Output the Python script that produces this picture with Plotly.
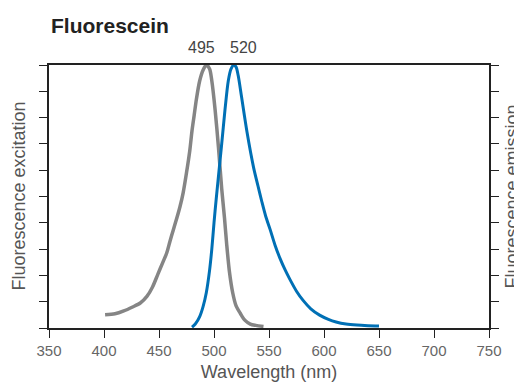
import plotly.graph_objects as go

# Excitation spectrum (gray)
ex_nm = [401, 410, 418, 426, 433, 439, 444, 449, 453, 457, 460, 463, 466, 469, 472,
         475, 478, 480, 482, 484, 487, 490, 493, 496, 498, 501, 504, 507, 509.5,
         511.5, 514, 517, 520, 524, 528, 533, 538, 545]
ex_val = [5.0, 5.4, 6.5, 8, 9.5, 12, 15.5, 20.5, 24.5, 28.5, 33, 37.3, 41.5, 46, 51.5,
          59, 67.5, 75, 81, 87, 94, 98, 100, 98.5, 94, 83, 69, 53, 42,
          32, 21.5, 13.4, 8.5, 5.5, 3, 1.5, 1.0, 0.6]

# Emission spectrum (blue)
em_nm = [480, 483, 487, 490, 493, 496, 498, 500, 502, 504, 507, 510, 513, 515.5, 518,
         520, 522, 525, 530, 536, 540, 543.5, 547, 551, 555.5, 560, 565, 569, 575,
         581, 588, 596, 604, 611, 620, 630, 640, 650]
em_val = [0.3, 1.5, 4.3, 8, 13.4, 22, 30, 40, 49, 57.5, 70, 83, 94, 98.5, 100,
          99.3, 96, 88, 74.5, 61, 54, 48, 42.5, 37.5, 31.5, 26.5, 21.8, 18.5, 14,
          10.5, 7.3, 4.9, 3.3, 2.3, 1.5, 1.1, 0.9, 0.8]

peak_labels = ["495", "520"]
peak_label_x = [489, 526.5]

x_ticks = [350, 400, 450, 500, 550, 600, 650, 700, 750]
y_ticks = [0, 10, 20, 30, 40, 50, 60, 70, 80, 90, 100]

FONT = "Liberation Sans, Arial, sans-serif"

fig = go.Figure()
fig.add_trace(go.Scatter(x=ex_nm, y=ex_val, mode="lines", name="Excitation",
                         line=dict(color="#858585", width=3.5, shape="spline", smoothing=0.8),
                         yaxis="y"))
fig.add_trace(go.Scatter(x=em_nm, y=em_val, mode="lines", name="Emission",
                         line=dict(color="#0070B5", width=3, shape="spline", smoothing=0.8),
                         yaxis="y2"))

axis_common = dict(showgrid=False, zeroline=False, linecolor="#222", linewidth=1.5,
                   ticks="outside", ticklen=8, tickcolor="#222", tickwidth=1,
                   automargin=False)

# page body has an 8px default margin, so the figure is sized/offset accordingly
fig.update_layout(
    width=514, height=375,
    margin=dict(l=41, r=33, t=57, b=55),
    paper_bgcolor="white", plot_bgcolor="white",
    showlegend=False,
    font=dict(family=FONT, color="#555"),
    xaxis=dict(range=[350, 750], tickvals=x_ticks, mirror=True,
               tickfont=dict(size=15, color="#666"),
               title=dict(text="Wavelength (nm)", font=dict(size=18, color="#555"), standoff=8),
               **axis_common),
    yaxis=dict(range=[0, 100], tickvals=y_ticks, showticklabels=False,
               **axis_common),
    yaxis2=dict(range=[0, 100], tickvals=y_ticks, showticklabels=False, overlaying="y",
                side="right", **axis_common),
)

fig.add_annotation(text="Fluorescence excitation", xref="paper", yref="paper",
                   x=(18 - 49) / 440, y=0.5, textangle=-90, showarrow=False,
                   xanchor="center", yanchor="middle",
                   font=dict(size=18, color="#555", family=FONT))
fig.add_annotation(text="Fluorescence emission", xref="paper", yref="paper",
                   x=(511 - 49) / 440, y=0.5, textangle=-90, showarrow=False,
                   xanchor="center", yanchor="middle",
                   font=dict(size=18, color="#555", family=FONT))

fig.add_annotation(text="<b>Fluorescein</b>", xref="paper", yref="paper", x=0, y=1.152,
                   xanchor="left", yanchor="middle", showarrow=False,
                   font=dict(size=21, color="#222", family=FONT))
for lbl, xv in zip(peak_labels, peak_label_x):
    fig.add_annotation(text=lbl, x=xv, xref="x", yref="paper", y=1.068,
                       xanchor="center", yanchor="middle", showarrow=False,
                       font=dict(size=16, color="#444", family=FONT))

fig.write_html("out.html")
